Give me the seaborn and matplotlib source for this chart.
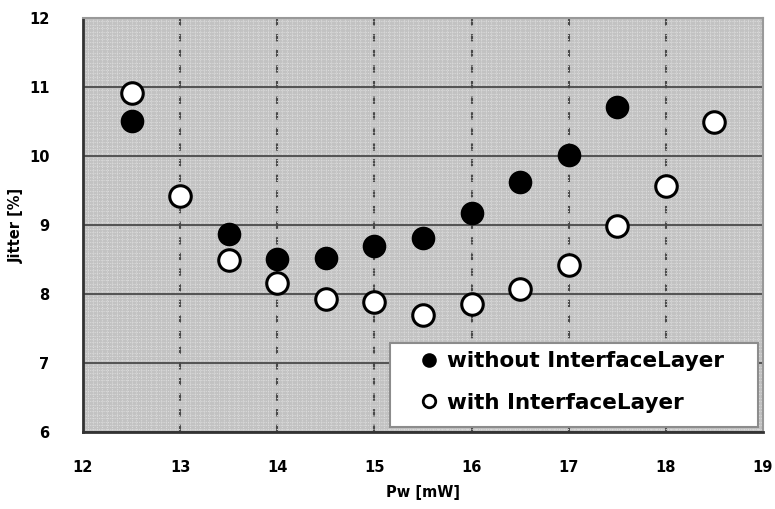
import numpy as np
import pandas as pd
import matplotlib
matplotlib.use("Agg")
import matplotlib.pyplot as plt
from matplotlib.lines import Line2D
from matplotlib.patches import Rectangle
import seaborn as sns

# Write power [mW] and jitter [%] for both disc structures
pw_without = [12.5, 13.5, 14.0, 14.5, 15.0, 15.5, 16.0, 16.5, 17.0, 17.5]
jitter_without = [10.51, 8.87, 8.51, 8.52, 8.69, 8.82, 9.17, 9.63, 10.01, 10.71]

pw_with = [12.5, 13.0, 13.5, 14.0, 14.5, 15.0, 15.5, 16.0, 16.5, 17.0, 17.5, 18.0, 18.5]
jitter_with = [10.92, 9.42, 8.49, 8.16, 7.93, 7.89, 7.70, 7.85, 8.07, 8.42, 8.98, 9.56, 10.50]

series_labels = ["without InterfaceLayer", "with InterfaceLayer"]
x_ticks = [12, 13, 14, 15, 16, 17, 18, 19]
y_ticks = [6, 7, 8, 9, 10, 11, 12]

df = pd.concat([
    pd.DataFrame({"Pw": pw_without, "Jitter": jitter_without, "series": series_labels[0]}),
    pd.DataFrame({"Pw": pw_with, "Jitter": jitter_with, "series": series_labels[1]}),
], ignore_index=True)

sns.set_style("white")
plt.rcParams["font.family"] = ["DejaVu Sans"]
plt.rcParams["text.color"] = "black"
plt.rcParams["axes.labelcolor"] = "black"
plt.rcParams["xtick.color"] = "black"
plt.rcParams["ytick.color"] = "black"

fig = plt.figure(figsize=(7.75, 5.09), dpi=100)
ax = fig.add_axes([0.107, 0.151, 0.8775, 0.8136])

# halftone-like grey plotting area: fine dotted mesh between the integer lines
ax.set_facecolor("#c2c2c2")
minor_x = [v for v in np.arange(12, 19.001, 0.05) if abs(v - round(v)) > 1e-6]
minor_y = [v for v in np.arange(6, 12.001, 0.05) if abs(v - round(v)) > 1e-6]
ax.set_xticks(minor_x, minor=True)
ax.set_yticks(minor_y, minor=True)
ax.grid(which="minor", color="#dadada", linewidth=0.8, linestyle=(0, (1, 1)))
ax.grid(which="major", axis="y", color="#4a4a4a", linewidth=1.3, linestyle="-")
ax.grid(which="major", axis="x", color="#484848", linewidth=1.5, linestyle=(0, (3.5, 4)))
ax.set_axisbelow(True)

sns.scatterplot(data=df[df.series == series_labels[1]], x="Pw", y="Jitter",
                color="white", edgecolor="black", linewidth=2.2, s=240,
                ax=ax, zorder=3, legend=False)
sns.scatterplot(data=df[df.series == series_labels[0]], x="Pw", y="Jitter",
                color="black", edgecolor="black", linewidth=1.5, s=240,
                ax=ax, zorder=3, legend=False)

ax.set_xlim(12, 19)
ax.set_ylim(6, 12)
ax.set_xticks(x_ticks)
ax.set_yticks(y_ticks)
ax.set_xticklabels([str(v) for v in x_ticks], fontsize=10.5, fontweight="bold")
ax.set_yticklabels([str(v) for v in y_ticks], fontsize=10.5, fontweight="bold")
ax.tick_params(which="both", length=0)
ax.tick_params(axis="x", pad=20)
ax.tick_params(axis="y", pad=24)

ax.set_xlabel("Pw [mW]", fontsize=10.5, fontweight="bold", labelpad=7)
ax.set_ylabel("Jitter [%]", fontsize=10.5, fontweight="bold", labelpad=4)

for side in ["left", "bottom"]:
    ax.spines[side].set_color("#333333")
    ax.spines[side].set_linewidth(2)
for side in ["top", "right"]:
    ax.spines[side].set_color("#999999")
    ax.spines[side].set_linewidth(1.5)

# legend panel: white box with grey border, entries placed inside it
ax.add_patch(Rectangle((0.4515, 0.012), 0.5411, 0.203, transform=ax.transAxes,
                       facecolor="white", edgecolor="#8c8c8c", linewidth=1.5,
                       zorder=5))
handles = [
    Line2D([], [], marker="o", linestyle="none", markersize=9,
           markerfacecolor="black", markeredgecolor="black", markeredgewidth=1.5),
    Line2D([], [], marker="o", linestyle="none", markersize=9,
           markerfacecolor="white", markeredgecolor="black", markeredgewidth=2),
]
leg = ax.legend(handles, series_labels, loc="upper left",
                bbox_to_anchor=(0.4956, 0.1956), frameon=False,
                prop={"weight": "bold", "size": 15.5},
                handletextpad=0.45, handlelength=0.8, borderpad=0.0,
                labelspacing=1.0, borderaxespad=0.0)
leg.set_zorder(6)
for t in leg.get_texts():
    t.set_color("black")

fig.savefig("out.png", dpi=100)
